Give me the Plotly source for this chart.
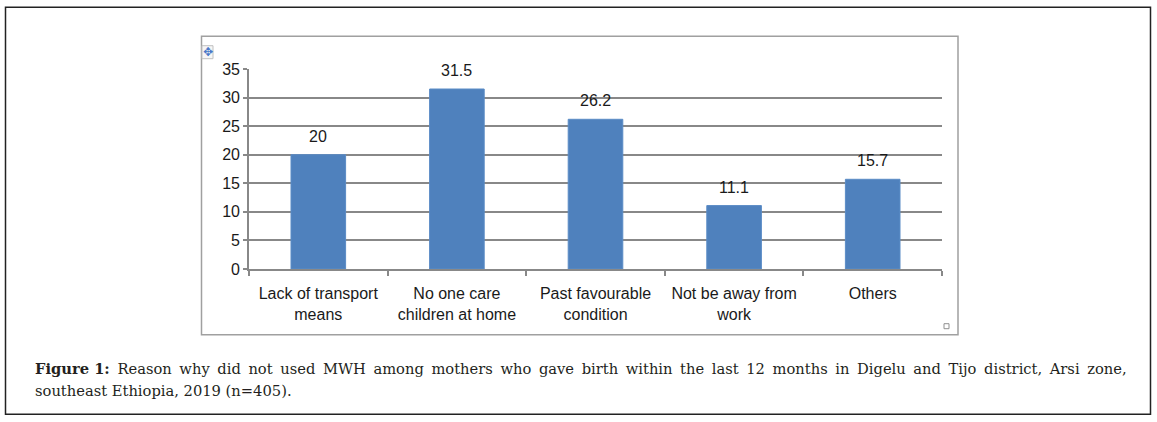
import plotly.graph_objects as go

categories = ["Lack of transport<br>means", "No one care<br>children at home",
              "Past favourable<br>condition", "Not be away from<br>work", "Others"]
values = [20, 31.5, 26.2, 11.1, 15.7]
value_labels = ["20", "31.5", "26.2", "11.1", "15.7"]
y_ticks = [0, 5, 10, 15, 20, 25, 30, 35]

caption_words1 = ["<b>Figure 1:</b>", "Reason", "why", "did", "not", "used", "MWH", "among",
                  "mothers", "who", "gave", "birth", "within", "the", "last", "12", "months",
                  "in", "Digelu", "and", "Tijo", "district,", "Arsi", "zone,"]
caption_line2 = "southeast Ethiopia, 2019 (n=405)."

W, H = 1157, 422
L, R, T, B = 249, 942, 69.3, 269.3


def px(x):
    return (x - L) / (R - L)


def py(y):
    return (B - y) / (B - T)


fig = go.Figure()
fig.add_trace(go.Bar(
    x=categories, y=values,
    marker=dict(color="#4f81bd", line=dict(color="#5b8cc6", width=1)),
    width=0.394, hoverinfo="skip",
))

for c, v, t in zip(categories, values, value_labels):
    fig.add_annotation(x=c, y=v, text=t, showarrow=False, yanchor="bottom",
                       yshift=8, font=dict(family="Liberation Sans, Arial", size=16, color="#1a1a1a"))

shapes = []
shapes.append(dict(type="rect", xref="paper", yref="paper", x0=px(5.5), x1=px(1150.5),
                   y0=py(414.5), y1=py(7.5), line=dict(color="#222222", width=1.5)))
shapes.append(dict(type="rect", xref="paper", yref="paper", x0=px(201.5), x1=px(958),
                   y0=py(335), y1=py(36.5), line=dict(color="#a0a0a0", width=1.5)))
shapes.append(dict(type="rect", xref="paper", yref="paper", x0=px(202), x1=px(213),
                   y0=py(59), y1=py(46), line=dict(color="#c0c0c0", width=1),
                   fillcolor="#f6f6f6"))
shapes.append(dict(type="rect", xref="paper", yref="paper", x0=px(944), x1=px(949),
                   y0=py(329), y1=py(324), line=dict(color="#909090", width=1)))
fig.update_layout(shapes=shapes)

fig.add_annotation(xref="paper", yref="paper", x=px(207.5), y=py(52.5), text="✥",
                   showarrow=False, xanchor="center", yanchor="middle",
                   font=dict(size=12, color="#4a78c8", family="DejaVu Sans"))

cap_font = dict(family="DejaVu Serif, Liberation Serif, serif", size=14.7, color="#231f20")
line1 = " \u2009".join(caption_words1)
fig.add_annotation(xref="paper", yref="paper", x=px(33), y=py(369), xanchor="left",
                   yanchor="middle", text=line1, showarrow=False, font=cap_font)
fig.add_annotation(xref="paper", yref="paper", x=px(33), y=py(391), xanchor="left",
                   yanchor="middle", text=caption_line2, showarrow=False, font=cap_font)

fig.update_layout(
    width=W, height=H,
    margin=dict(l=L, r=W - R, t=T, b=H - B, pad=0),
    paper_bgcolor="white", plot_bgcolor="white",
    showlegend=False, bargap=0.6,
    font=dict(family="Liberation Sans, Arial", size=16, color="#1a1a1a"),
)
fig.update_yaxes(range=[0, 35], tickvals=y_ticks, showgrid=True, gridcolor="#888888",
                 gridwidth=1.6, showline=True, linecolor="#888888", linewidth=1.6,
                 ticks="outside", ticklen=4, tickcolor="#888888", tickwidth=1.6,
                 zeroline=False, tickfont=dict(size=16), fixedrange=True)
fig.update_xaxes(showline=True, linecolor="#888888", linewidth=1.6, ticks="outside",
                 tickson="boundaries", ticklen=5, tickcolor="#888888", tickwidth=1.6,
                 showgrid=False, tickfont=dict(size=16), ticklabelstandoff=9,
                 fixedrange=True)

fig.write_html("out.html", config={"displayModeBar": False},
               post_script="document.body.style.margin='0';document.body.style.padding='0';")
